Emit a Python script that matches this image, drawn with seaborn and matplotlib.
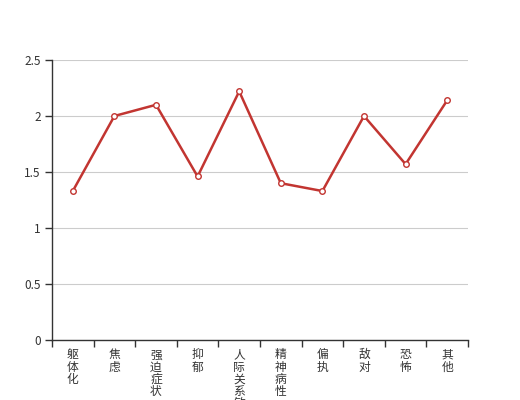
import seaborn as sns
import matplotlib.pyplot as plt
import pandas as pd
from matplotlib.ticker import FixedLocator

categories = ["躯体化", "焦虑", "强迫症状", "抑郁", "人际关系敏感", "精神病性", "偏执", "敌对", "恐怖", "其他"]
values = [1.33, 2.0, 2.1, 1.46, 2.22, 1.4, 1.33, 2.0, 1.57, 2.14]
y_ticks = [0, 0.5, 1, 1.5, 2, 2.5]
y_labels = ["0", "0.5", "1", "1.5", "2", "2.5"]

sns.set_style("white")
plt.rcParams['font.family'] = ['Noto Sans CJK SC', 'DejaVu Sans']

df = pd.DataFrame({"cat": categories, "val": values})

fig = plt.figure(figsize=(5.2, 4), dpi=100)
ax = fig.add_axes([0.1, 0.15, 0.8, 0.7])
sns.lineplot(data=df, x="cat", y="val", ax=ax, color="#c23531", linewidth=1.8,
             marker="o", markersize=4, markerfacecolor="white",
             markeredgecolor="#c23531", markeredgewidth=1, zorder=3)

ax.set_xlim(-0.5, len(categories) - 0.5)
ax.set_ylim(0, 2.5)
ax.set_yticks(y_ticks)
ax.set_yticklabels(y_labels, fontsize=8.5, color="#333333")
ax.yaxis.grid(True, color="#cccccc", linewidth=0.8)
ax.set_axisbelow(True)

ax.set_xticks(range(len(categories)))
ax.set_xticklabels(["\n".join(c) for c in categories], fontsize=8.5, color="#333333",
                   va="top", linespacing=0.92)
ax.tick_params(axis="x", which="major", length=0, pad=6)
ax.xaxis.set_minor_locator(FixedLocator([i - 0.5 for i in range(len(categories) + 1)]))
ax.tick_params(axis="x", which="minor", length=5, color="#333333", width=1, direction="out", bottom=True)
ax.tick_params(axis="y", length=5, color="#333333", width=1, direction="out", left=True, pad=3)

for s in ["top", "right"]:
    ax.spines[s].set_visible(False)
for s in ["left", "bottom"]:
    ax.spines[s].set_color("#333333")
    ax.spines[s].set_linewidth(1)

ax.set_xlabel("")
ax.set_ylabel("")

fig.savefig("out.png", dpi=100)
